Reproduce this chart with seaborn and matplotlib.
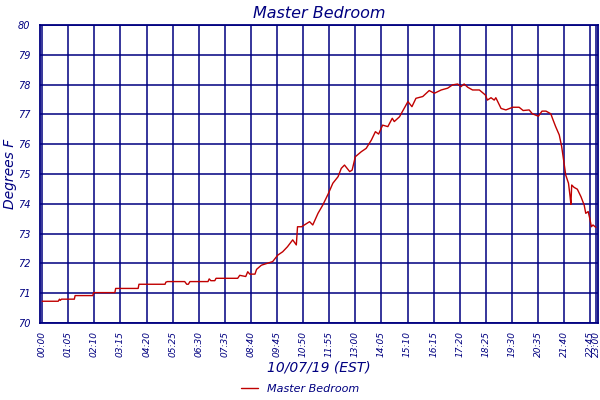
import pandas as pd
import matplotlib.pyplot as plt
import seaborn as sns

# minutes after midnight and temperature (deg F)
minutes = [0, 40, 43, 45, 48, 80, 82, 126, 128, 181, 183, 239, 241, 306, 308, 312,
           355, 360, 364, 368, 413, 416, 420, 430, 433, 487, 492, 507, 512, 517,
           530, 534, 546, 574, 587, 599, 611, 624, 633, 636, 646, 666, 674, 687,
           699, 712, 724, 737, 745, 753, 766, 772, 780, 795, 807, 820, 830, 838,
           848, 861, 872, 877, 890, 911, 921, 931, 948, 964, 977, 994, 1010, 1022,
           1035, 1043, 1051, 1060, 1072, 1089, 1104, 1109, 1118, 1126, 1130, 1143,
           1155, 1172, 1188, 1198, 1213, 1221, 1236, 1245, 1255, 1267, 1271, 1279,
           1288, 1294, 1300, 1304, 1311, 1315, 1317, 1319, 1325, 1333, 1342, 1350,
           1354, 1360, 1364, 1368, 1372, 1379]
temps = [70.73, 70.73, 70.80, 70.76, 70.80, 70.80, 70.92, 70.92, 71.02, 71.02,
         71.16, 71.16, 71.30, 71.30, 71.37, 71.39, 71.39, 71.30, 71.30, 71.39,
         71.39, 71.48, 71.42, 71.42, 71.50, 71.50, 71.60, 71.56, 71.72, 71.64,
         71.64, 71.80, 71.94, 72.06, 72.28, 72.39, 72.56, 72.79, 72.62, 73.23,
         73.23, 73.40, 73.29, 73.68, 73.96, 74.32, 74.69, 74.91, 75.19, 75.30,
         75.08, 75.13, 75.58, 75.75, 75.86, 76.14, 76.42, 76.34, 76.64, 76.59,
         76.87, 76.76, 76.92, 77.43, 77.26, 77.54, 77.60, 77.80, 77.71, 77.82,
         77.88, 77.99, 78.02, 77.93, 78.02, 77.91, 77.82, 77.82, 77.65, 77.48,
         77.56, 77.48, 77.56, 77.20, 77.15, 77.24, 77.24, 77.13, 77.15, 77.02,
         76.94, 77.11, 77.11, 77.02, 76.87, 76.59, 76.31, 75.92, 75.36, 74.97,
         74.69, 74.24, 73.98, 74.63, 74.55, 74.49, 74.24, 73.96, 73.68, 73.74,
         73.51, 73.23, 73.29, 73.21]

tick_minutes = list(range(0, 1366, 65)) + [1380]
tick_labels = [f"{m // 60:02d}:{m % 60:02d}" for m in tick_minutes]

navy = "#000080"
red = "#c00000"

df = pd.DataFrame({"minute": minutes, "temp": temps, "series": "Master Bedroom"})

sns.set_style("white")
plt.rcParams["font.family"] = ["DejaVu Sans"]

fig = plt.figure(figsize=(6, 4), dpi=100)
ax = fig.add_axes([0.067, 0.1925, 0.93, 0.745])

sns.lineplot(data=df, x="minute", y="temp", hue="series", palette=[red],
             linewidth=1.0, ax=ax, legend=True)

ax.set_xlim(-5, 1385)
ax.set_ylim(70, 80)
ax.set_xticks(tick_minutes)
ax.set_xticklabels(tick_labels, rotation=90, fontsize=6.5, style="italic", color=navy)
ax.set_yticks(range(70, 81))
ax.set_yticklabels([str(v) for v in range(70, 81)], fontsize=7, style="italic", color=navy)
ax.tick_params(axis="x", length=0, pad=6)
ax.tick_params(axis="y", length=0, pad=7)
ax.grid(True, color=navy, linewidth=1.1)
for s in ax.spines.values():
    s.set_color(navy)
    s.set_linewidth(1.3)

ax.set_title("Master Bedroom", fontsize=11.5, style="italic", color=navy, pad=5)
ax.set_xlabel("10/07/19 (EST)", fontsize=10, style="italic", color=navy, labelpad=2)
ax.set_ylabel("Degrees F", fontsize=10, style="italic", color=navy, labelpad=1)

handles, labels = ax.get_legend_handles_labels()
ax.get_legend().remove()
fig.legend(handles, labels, loc="lower center", bbox_to_anchor=(0.5, -0.01),
           frameon=False, prop={"style": "italic", "size": 8},
           labelcolor=navy, handlelength=1.5)

fig.savefig("out.png", dpi=100)
